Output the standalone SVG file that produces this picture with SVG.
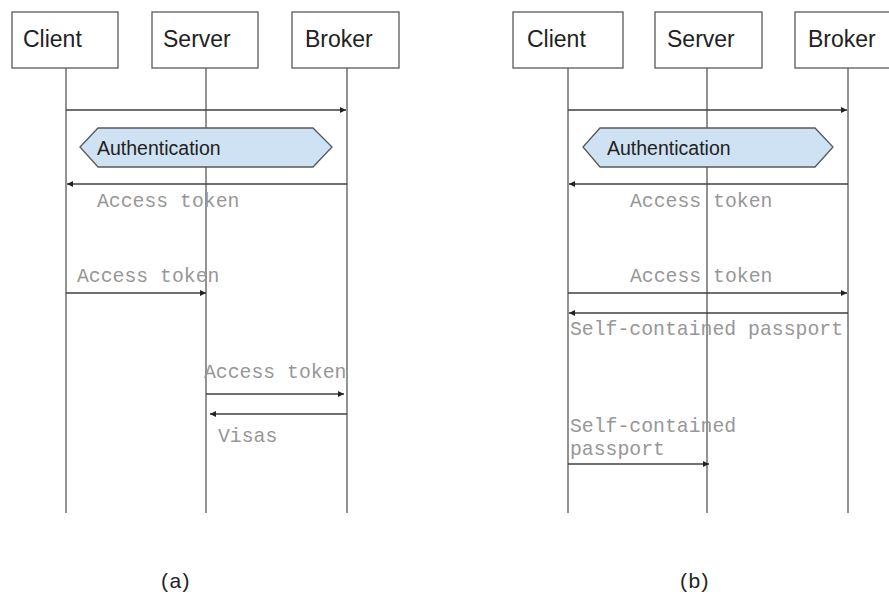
<svg xmlns="http://www.w3.org/2000/svg" width="889" height="595" viewBox="0 0 889 595">
  <style>
    .box { fill: #ffffff; stroke: #595959; stroke-width: 1.3; }
    .life { stroke: #595959; stroke-width: 1.3; fill: none; }
    .msg { stroke: #3f3f3f; stroke-width: 1.3; fill: none; marker-end: url(#arrow); }
    .hex { fill: #cfe2f3; stroke: #595959; stroke-width: 1.3; }
    .name { font-family: "Liberation Sans", Arial, sans-serif; font-size: 23px; fill: #222222; }
    .auth { font-family: "Liberation Sans", Arial, sans-serif; font-size: 19.5px; fill: #222222; }
    .mono { font-family: "Liberation Mono", "Courier New", monospace; font-size: 19.8px; fill: #979797; }
    .cap { font-family: "Liberation Sans", Arial, sans-serif; font-size: 21px; fill: #222222; letter-spacing: 1.5px; }
  </style>
  <defs>
    <marker id="arrow" viewBox="0 0 8 8" refX="8" refY="4" markerWidth="6" markerHeight="6" markerUnits="userSpaceOnUse" orient="auto">
      <path d="M0,0 L8,4 L0,8 z" fill="#222222"/>
    </marker>
  </defs>

  <!-- (a) participants -->
  <g id="a-client">
    <rect class="box" x="12" y="12" width="106" height="56"/>
    <text class="name" x="23" y="47">Client</text>
  </g>
  <g id="a-server">
    <rect class="box" x="152" y="12" width="106" height="56"/>
    <text class="name" x="163" y="47">Server</text>
  </g>
  <g id="a-broker">
    <rect class="box" x="292" y="12" width="107" height="56"/>
    <text class="name" x="305" y="47">Broker</text>
  </g>

  <!-- (b) participants -->
  <g id="b-client">
    <rect class="box" x="513" y="12" width="110" height="56"/>
    <text class="name" x="527" y="47">Client</text>
  </g>
  <g id="b-server">
    <rect class="box" x="655" y="12" width="107" height="56"/>
    <text class="name" x="667" y="47">Server</text>
  </g>
  <g id="b-broker">
    <rect class="box" x="795" y="12" width="110" height="56"/>
    <text class="name" x="808" y="47">Broker</text>
  </g>

  <!-- lifelines and messages -->
  <g id="connectors">
    <line class="life" x1="66" y1="68" x2="66" y2="513"/>
    <line class="life" x1="206" y1="68" x2="206" y2="513"/>
    <line class="life" x1="347" y1="68" x2="347" y2="513"/>
    <line class="life" x1="568" y1="68" x2="568" y2="513"/>
    <line class="life" x1="707" y1="68" x2="707" y2="513"/>
    <line class="life" x1="848" y1="68" x2="848" y2="513"/>

    <!-- (a) -->
    <line class="msg" x1="66" y1="110" x2="346" y2="110"/>
    <line class="msg" x1="347" y1="184" x2="67" y2="184"/>
    <line class="msg" x1="66" y1="293" x2="206" y2="293"/>
    <line class="msg" x1="206" y1="394" x2="344" y2="394"/>
    <line class="msg" x1="347" y1="414" x2="210" y2="414"/>

    <!-- (b) -->
    <line class="msg" x1="568" y1="110" x2="847" y2="110"/>
    <line class="msg" x1="848" y1="184" x2="569" y2="184"/>
    <line class="msg" x1="568" y1="293" x2="847" y2="293"/>
    <line class="msg" x1="848" y1="313" x2="569" y2="313"/>
    <line class="msg" x1="568" y1="464" x2="709" y2="464"/>
  </g>

  <!-- authentication phases -->
  <g id="a-auth">
    <polygon class="hex" points="80,147 98,128 313,128 332,147 313,167 98,167"/>
    <text class="auth" x="97" y="155">Authentication</text>
  </g>
  <g id="b-auth">
    <polygon class="hex" points="583,147 600,128 815,128 833,147 815,167 600,167"/>
    <text class="auth" x="607" y="155">Authentication</text>
  </g>

  <!-- message labels -->
  <g id="labels">
    <text class="mono" x="97" y="207">Access token</text>
    <text class="mono" x="77" y="282">Access token</text>
    <text class="mono" x="204" y="378">Access token</text>
    <text class="mono" x="218" y="442">Visas</text>

    <text class="mono" x="630" y="207">Access token</text>
    <text class="mono" x="630" y="282">Access token</text>
    <text class="mono" x="570" y="335">Self-contained passport</text>
    <text class="mono" x="570" y="432">Self-contained</text>
    <text class="mono" x="570" y="455">passport</text>
  </g>

  <!-- captions -->
  <text class="cap" x="176" y="588" text-anchor="middle">(a)</text>
  <text class="cap" x="695" y="588" text-anchor="middle">(b)</text>
</svg>
